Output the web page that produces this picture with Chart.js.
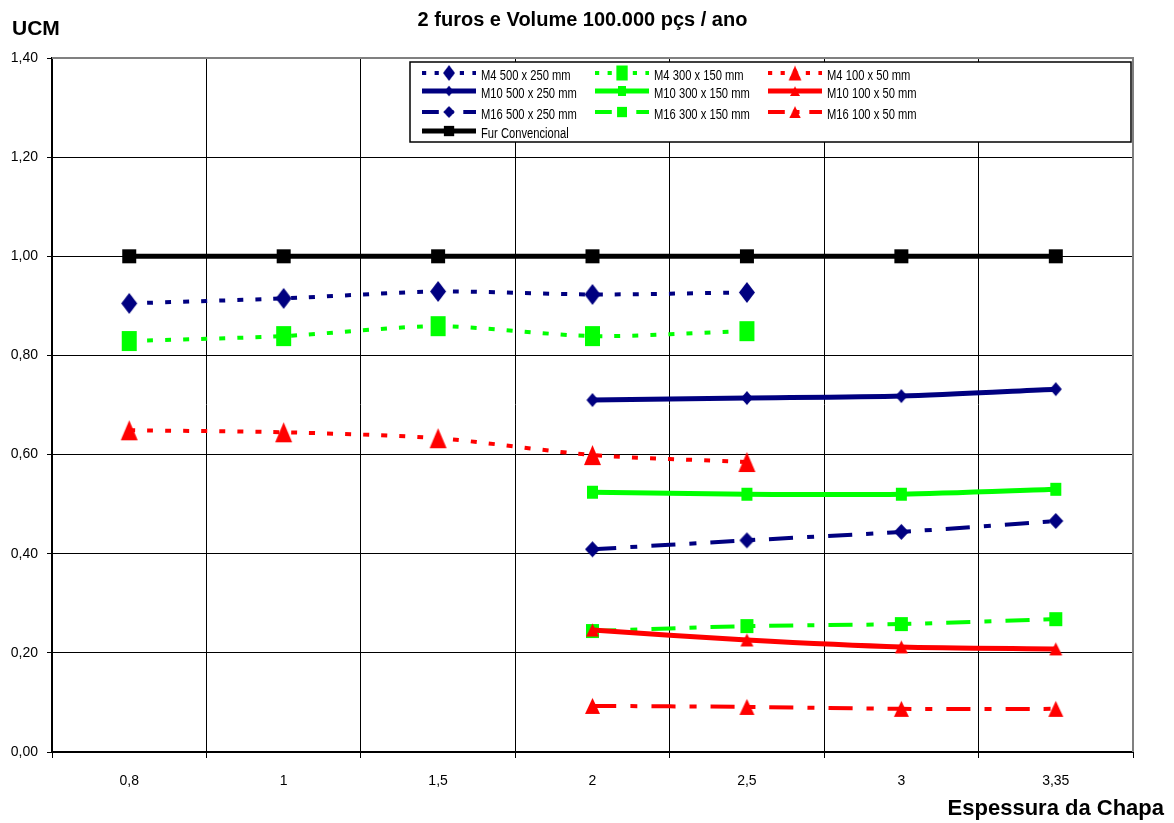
<!DOCTYPE html>
<html>
<head>
<meta charset="utf-8">
<script src="https://cdn.jsdelivr.net/npm/chart.js@4.4.0/dist/chart.umd.min.js"></script>
<style>
  html, body { margin: 0; padding: 0; background: #fff; }
  #wrap { width: 1174px; height: 823px; }
</style>
</head>
<body>
<div id="wrap"><canvas id="ucmChart" width="1174" height="823"></canvas></div>
<script>
// espessura da chapa (categorias do eixo X)
const categories = ['0,8', '1', '1,5', '2', '2,5', '3', '3,35'];

// UCM por série
const m4_500x250  = [0.905, 0.915, 0.929, 0.923, 0.927, null, null];
const m4_300x150  = [0.829, 0.839, 0.859, 0.839, 0.849, null, null];
const m4_100x50   = [0.649, 0.645, 0.633, 0.599, 0.585, null, null];
const m10_500x250 = [null, null, null, 0.710, 0.714, 0.718, 0.732];
const m10_300x150 = [null, null, null, 0.524, 0.520, 0.520, 0.530];
const m10_100x50  = [null, null, null, 0.246, 0.226, 0.212, 0.208];
const m16_500x250 = [null, null, null, 0.409, 0.427, 0.444, 0.466];
const m16_300x150 = [null, null, null, 0.244, 0.254, 0.258, 0.268];
const m16_100x50  = [null, null, null, 0.093, 0.091, 0.087, 0.087];
const furConvencional = [1.00, 1.00, 1.00, 1.00, 1.00, 1.00, 1.00];

const yMin = 0, yMax = 1.4, yStep = 0.2;

const NAVY = '#000080', LIME = '#00ff00', RED = '#ff0000', BLACK = '#000000';
const FONT = '"Liberation Sans", Arial, sans-serif';

// marcadores desenhados num canvas pequeno (permite losangos/retângulos mais altos que largos)
function marker(shape, w, h, color) {
  const c = document.createElement('canvas');
  c.width = w + 2; c.height = h + 2;
  const g = c.getContext('2d');
  const cx = c.width / 2, cy = c.height / 2;
  g.fillStyle = color;
  g.beginPath();
  if (shape === 'diamond') {
    g.moveTo(cx, 1); g.lineTo(cx + w / 2, cy); g.lineTo(cx, cy + h / 2); g.lineTo(cx - w / 2, cy);
  } else if (shape === 'triangle') {
    g.moveTo(cx, 1); g.lineTo(1 + w, 1 + h); g.lineTo(1, 1 + h);
  } else {
    g.rect(1, 1, w, h);
  }
  g.closePath();
  g.fill();
  return c;
}

const DOT = [6, 12];
const DASHDOT = [24, 14, 7, 14];

function series(label, data, color, width, dash, point) {
  return {
    label: label,
    data: data,
    borderColor: color,
    backgroundColor: color,
    borderWidth: width,
    borderDash: dash,
    pointStyle: point,
    pointRadius: 6,
    pointHoverRadius: 6,
    tension: 0.25,
    spanGaps: false
  };
}

const datasets = [
  series('M4 500 x 250 mm', m4_500x250, NAVY, 4, DOT, marker('diamond', 16, 21, NAVY)),
  series('M4 300 x 150 mm', m4_300x150, LIME, 4, DOT, marker('rect', 15, 20, LIME)),
  series('M4 100 x 50 mm', m4_100x50, RED, 4, DOT, marker('triangle', 17, 20, RED)),
  series('M10 500 x 250 mm', m10_500x250, NAVY, 5, [], marker('diamond', 12, 14, NAVY)),
  series('M10 300 x 150 mm', m10_300x150, LIME, 5, [], marker('rect', 11, 13, LIME)),
  series('M10 100 x 50 mm', m10_100x50, RED, 5, [], marker('triangle', 13, 13, RED)),
  series('M16 500 x 250 mm', m16_500x250, NAVY, 4, DASHDOT, marker('diamond', 15, 16, NAVY)),
  series('M16 300 x 150 mm', m16_300x150, LIME, 4, DASHDOT, marker('rect', 13, 14, LIME)),
  series('M16 100 x 50 mm', m16_100x50, RED, 4, DASHDOT, marker('triangle', 15, 16, RED)),
  series('Fur Convencional', furConvencional, BLACK, 5, [], marker('rect', 14, 14, BLACK))
];

// títulos, bordas cinzentas e legenda em caixa
const decor = {
  id: 'decor',
  afterDraw(chart) {
    const ctx = chart.ctx;
    const ca = chart.chartArea;
    ctx.save();

    ctx.strokeStyle = '#808080';
    ctx.lineWidth = 2;
    ctx.beginPath();
    ctx.moveTo(ca.left, ca.top); ctx.lineTo(ca.right, ca.top); ctx.lineTo(ca.right, ca.bottom);
    ctx.stroke();

    ctx.fillStyle = '#000';
    ctx.textBaseline = 'middle';
    ctx.font = 'bold 20px ' + FONT;
    ctx.textAlign = 'center';
    ctx.fillText('2 furos e Volume 100.000 pçs / ano', (ca.left + ca.right) / 2 - 10, 20);
    ctx.font = 'bold 21px ' + FONT;
    ctx.textAlign = 'left';
    ctx.fillText('UCM', 12, 29);
    ctx.font = 'bold 22px ' + FONT;
    ctx.textAlign = 'right';
    ctx.fillText('Espessura da Chapa', chart.width - 10, 809);

    // legenda
    const bx = ca.right - 723, by = ca.top + 4, bw = 721, bh = 80;
    ctx.fillStyle = '#fff';
    ctx.fillRect(bx, by, bw, bh);
    ctx.strokeStyle = '#000';
    ctx.lineWidth = 1.5;
    ctx.strokeRect(bx, by, bw, bh);
    const cols = [12, 185, 358];
    const rows = [11, 29, 50, 69];
    ctx.font = '14px ' + FONT;
    ctx.textAlign = 'left';
    chart.data.datasets.forEach((ds, i) => {
      const x = bx + cols[i % 3];
      const y = by + rows[Math.floor(i / 3)];
      ctx.strokeStyle = ds.borderColor;
      ctx.lineWidth = ds.borderWidth;
      ctx.setLineDash(ds.borderDash.map(v => v * 0.7));
      ctx.beginPath();
      ctx.moveTo(x, y); ctx.lineTo(x + 54, y);
      ctx.stroke();
      ctx.setLineDash([]);
      const img = ds.pointStyle;
      const w = img.width * 0.75, h = img.height * 0.75;
      ctx.drawImage(img, x + 27 - w / 2, y - h / 2, w, h);
      // texto estreito como no original
      ctx.save();
      ctx.translate(x + 59, y + 3);
      ctx.scale(0.8, 1);
      ctx.fillStyle = '#000';
      ctx.fillText(ds.label, 0, 0);
      ctx.restore();
    });

    ctx.restore();
  }
};

new Chart(document.getElementById('ucmChart'), {
  type: 'line',
  data: { labels: categories, datasets: datasets },
  options: {
    responsive: false,
    animation: false,
    events: [],
    layout: { padding: { top: 58, right: 41, left: 0, bottom: 0 } },
    plugins: {
      legend: { display: false },
      tooltip: { enabled: false }
    },
    scales: {
      x: {
        offset: true,
        afterFit(scale) { scale.height = 71; },
        border: { color: '#000', width: 2 },
        grid: {
          offset: true,
          color: '#000',
          lineWidth: 1,
          drawTicks: true,
          tickLength: 6,
          tickColor: '#000'
        },
        ticks: {
          color: '#000',
          padding: 15,
          font: { family: FONT, size: 14 }
        }
      },
      y: {
        min: yMin,
        max: yMax,
        afterFit(scale) { scale.width = 52; },
        border: { color: '#000', width: 2 },
        grid: {
          color: '#000',
          lineWidth: 1,
          drawTicks: true,
          tickLength: 5,
          tickColor: '#000'
        },
        ticks: {
          stepSize: yStep,
          color: '#000',
          padding: 9,
          font: { family: FONT, size: 14 },
          callback: v => v.toFixed(2).replace('.', ',')
        }
      }
    }
  },
  plugins: [decor]
});
</script>
</body>
</html>
